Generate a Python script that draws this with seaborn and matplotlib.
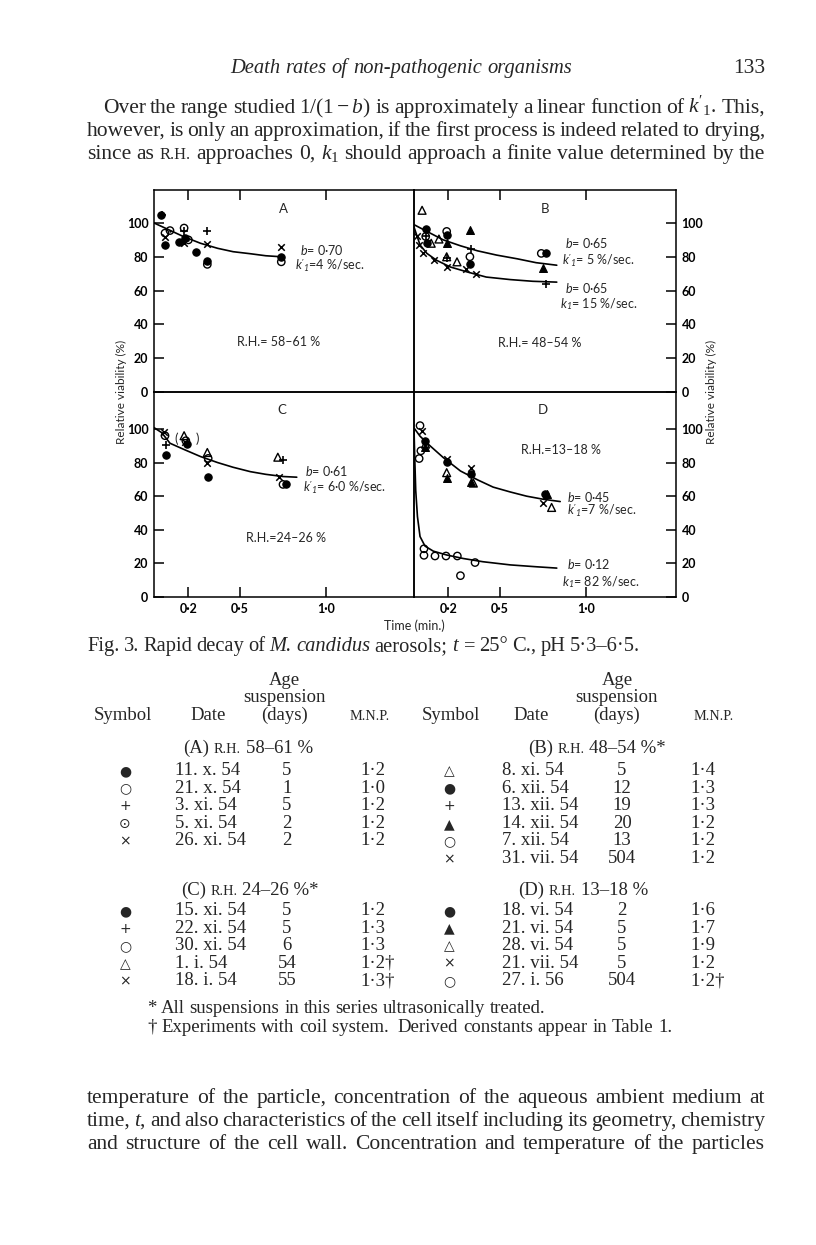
import matplotlib
matplotlib.use("Agg")
import matplotlib.pyplot as plt
import seaborn as sns

W, H = 816, 1245
SERIF = "Liberation Serif"
SANS = ["Lato", "DejaVu Sans"]

# ---- data (time in min, relative viability in %) ----
a_t = [0.04, 0.048, 0.064, 0.064, 0.064, 0.093, 0.145, 0.175, 0.175, 0.175, 0.178, 0.2, 0.244,
       0.31, 0.31, 0.31, 0.31, 0.74, 0.74, 0.74]
a_v = [105, 105, 94, 91.5, 87, 95.5, 89, 97, 95, 88, 91, 90, 83,
       95, 87.5, 77.5, 75.5, 86, 80, 77]
a_s = ['f', '+', 'o', 'x', 'f', 'od', 'f', 'o', '+', 'x', 'f', 'od', 'f',
       '+', 'x', 'f', 'o', 'x', 'f', 'o']
a_curve_t = [0, 0.075, 0.17, 0.27, 0.37, 0.46, 0.56, 0.65, 0.74]
a_curve_v = [100, 96.5, 92, 88, 85, 83, 81.8, 80.6, 80]

b_t = [0.047, 0.07, 0.068, 0.068, 0.075, 0.1, 0.145, 0.19, 0.19, 0.19, 0.19, 0.19, 0.25,
       0.325, 0.325, 0.325, 0.33, 0.74, 0.765, 0.75, 0.77,
       0.02, 0.03, 0.05, 0.115, 0.19, 0.30, 0.36]
b_v = [107.5, 96.5, 92, 92, 88, 88, 90.5, 95, 93, 88, 80, 79, 77,
       96, 80, 76, 84.5, 82, 82, 73.5, 64,
       92, 87, 82, 78, 74, 72.5, 70]
b_s = ['^', 'f', 'o', '+', 'f', '^', '^', 'o', 'f', 'f^', '^', '+', '^',
       'f^', 'o', 'f', '+', 'o', 'f', 'f^', '+',
       'x', 'x', 'x', 'x', 'x', 'x', 'x']
b_curve1_t = [0, 0.075, 0.17, 0.27, 0.37, 0.48, 0.6, 0.71, 0.83]
b_curve1_v = [99, 95, 90, 86.5, 83.5, 81, 78.8, 76.5, 75]
b_curve2_t = [0, 0.035, 0.075, 0.13, 0.21, 0.31, 0.42, 0.56, 0.69, 0.83]
b_curve2_v = [97.6, 87, 82, 78, 74, 71, 68, 66.5, 65.5, 65]

c_t = [0.064, 0.06, 0.175, 0.18, 0.185, 0.19, 0.068, 0.068, 0.31, 0.31, 0.315, 0.315,
       0.72, 0.75, 0.725, 0.75, 0.77]
c_v = [96, 98, 96, 92.5, 93, 91, 90.5, 84.5, 86, 79.5, 82.5, 71.7,
       83.2, 81.6, 71.3, 67, 67]
c_s = ['o', 'x', '^', 'x', 'o', 'f', '+', 'f', '^', 'x', 'o', 'f',
       '^', '+', 'x', 'o', 'f']
c_curve_t = [0, 0.045, 0.093, 0.17, 0.27, 0.37, 0.46, 0.56, 0.65, 0.75, 0.83]
c_curve_v = [100.8, 97.8, 91.5, 88, 83.6, 80, 77.2, 74.6, 73, 71.7, 71.3]

d_t = [0.035, 0.045, 0.03, 0.04, 0.063, 0.067, 0.065, 0.19, 0.19, 0.19, 0.19,
       0.33, 0.33, 0.33, 0.345, 0.76, 0.775, 0.75, 0.8,
       0.058, 0.058, 0.122, 0.186, 0.252, 0.355, 0.27]
d_v = [102, 98.6, 82.4, 87, 93, 91, 89, 82.4, 80.5, 74, 71,
       76.8, 73.2, 68.4, 67.8, 61.5, 61.5, 55.7, 53.3,
       28.7, 24.8, 24.4, 24.4, 24.4, 20.5, 12.7]
d_s = ['o', 'x', 'o', 'o', 'f', '^', 'f^', 'x', 'f', '^', 'f^',
       'x', 'f', 'f^', '^', 'f', 'f^', 'x', '^',
       'o', 'o', 'o', 'o', 'o', 'o', 'o']
d_curve1_t = [0, 0.035, 0.093, 0.17, 0.27, 0.37, 0.46, 0.56, 0.655, 0.75, 0.85]
d_curve1_v = [100.6, 95.7, 90, 83, 75, 69.7, 65.4, 62.5, 60, 58.2, 56.8]
d_curve2_t = [0, 0.004, 0.01, 0.02, 0.035, 0.064, 0.112, 0.19, 0.287, 0.4, 0.56, 0.71, 0.83]
d_curve2_v = [100, 84, 63.5, 47.9, 36, 30.3, 27.3, 25, 22.9, 21, 19.1, 18, 17.2]

y_ticks = [0, 20, 40, 60, 80, 100]
x_ticks = [0.2, 0.5, 1.0]
x_ticklabels = ['0·2', '0·5', '1·0']

# ---- table ----
a_sym = ['●', '○', '+', '⊙', '×']
a_date = ['11. x. 54', '21. x. 54', '3. xi. 54', '5. xi. 54', '26. xi. 54']
a_age = ['5', '1', '5', '2', '2']
a_mnp = ['1·2', '1·0', '1·2', '1·2', '1·2']
b_sym = ['△', '●', '+', '▲', '○', '×']
b_date = ['8. xi. 54', '6. xii. 54', '13. xii. 54', '14. xii. 54', '7. xii. 54', '31. vii. 54']
b_age = ['5', '12', '19', '20', '13', '504']
b_mnp = ['1·4', '1·3', '1·3', '1·2', '1·2', '1·2']
c_sym = ['●', '+', '○', '△', '×']
c_date = ['15. xi. 54', '22. xi. 54', '30. xi. 54', '1. i. 54', '18. i. 54']
c_age = ['5', '5', '6', '54', '55']
c_mnp = ['1·2', '1·3', '1·3', '1·2†', '1·3†']
d_sym = ['●', '▲', '△', '×', '○']
d_date = ['18. vi. 54', '21. vi. 54', '28. vi. 54', '21. vii. 54', '27. i. 56']
d_age = ['2', '5', '5', '5', '504']
d_mnp = ['1·6', '1·7', '1·9', '1·2', '1·2†']

sns.set_style("white")
plt.rcParams['font.family'] = SANS
plt.rcParams['mathtext.fontset'] = 'custom'
plt.rcParams['mathtext.rm'] = SERIF
plt.rcParams['mathtext.it'] = SERIF + ':italic'
plt.rcParams['mathtext.sf'] = 'Lato:italic'

fig = plt.figure(figsize=(W / 100, H / 100), dpi=100)
R = fig.canvas.get_renderer()


def px(x, y):
    return x / W, 1 - y / H


def box(l, t, r, b):
    return [l / W, 1 - b / H, (r - l) / W, (b - t) / H]


# marker styles for the symbols
STY = {
    'f': dict(marker='o', s=28, color='k', edgecolor='k', linewidth=0.8),
    'o': dict(marker='o', s=28, color='k', facecolors='none', edgecolor='k', linewidth=1.0),
    'od': dict(marker='o', s=28, color='k', facecolors='none', edgecolor='k', linewidth=1.0),
    '+': dict(marker='+', s=40, color='k', edgecolor='k', linewidth=1.2),
    'x': dict(marker='x', s=22, color='k', edgecolor='k', linewidth=1.1),
    '^': dict(marker='^', s=32, color='k', facecolors='none', edgecolor='k', linewidth=1.0),
    'f^': dict(marker='^', s=32, color='k', edgecolor='k', linewidth=0.8),
}


def draw_points(ax, t, v, s):
    for key, kw in STY.items():
        xs = [a for a, k in zip(t, s) if k == key]
        ys = [b for b, k in zip(v, s) if k == key]
        if xs:
            sns.scatterplot(x=xs, y=ys, ax=ax, zorder=3, clip_on=False, **kw)
            if key == 'od':
                sns.scatterplot(x=xs, y=ys, ax=ax, marker='o', s=3, color='k',
                                edgecolor='k', linewidth=0, zorder=4)


def draw_curve(ax, t, v):
    sns.lineplot(x=t, y=v, ax=ax, color='k', linewidth=1.2, sort=False, estimator=None)


axA = fig.add_axes(box(154, 190, 414, 392))
axB = fig.add_axes(box(414, 190, 676, 392))
axC = fig.add_axes(box(154, 392, 414, 597))
axD = fig.add_axes(box(414, 392, 676, 597))

draw_curve(axA, a_curve_t, a_curve_v)
draw_points(axA, a_t, a_v, a_s)
draw_curve(axB, b_curve1_t, b_curve1_v)
draw_curve(axB, b_curve2_t, b_curve2_v)
draw_points(axB, b_t, b_v, b_s)
draw_curve(axC, c_curve_t, c_curve_v)
draw_points(axC, c_t, c_v, c_s)
draw_curve(axD, d_curve1_t, d_curve1_v)
draw_curve(axD, d_curve2_t, d_curve2_v)
draw_points(axD, d_t, d_v, d_s)

for ax, top, left in [(axA, True, True), (axB, True, False), (axC, False, True), (axD, False, False)]:
    ax.set_xlim(0, (ax.get_position().width * W) / 172)
    ax.set_ylim(0, 119.5 if top else 122)
    ax.set_xticks(x_ticks)
    ax.set_xticklabels(x_ticklabels)
    ax.set_yticks(y_ticks)
    ax.set_xlabel('')
    ax.set_ylabel('')
    ax.tick_params(direction='in', length=7, width=1.1, colors='k', labelsize=9, pad=4,
                   top=top, bottom=not top, labeltop=False, labelbottom=not top,
                   left=left, labelleft=left, right=not left, labelright=not left)
    for lab in ax.get_xticklabels() + ax.get_yticklabels():
        lab.set_fontweight('bold')
    for sp in ax.spines.values():
        sp.set_linewidth(1.1)
        sp.set_color('k')
    ax.set_facecolor('none')


# figure annotations
def ftext(x, y, s, size=9, ha='left', **kw):
    fig.text(*px(x, y), s, fontsize=size, ha=ha, va='center', family=SANS, **kw)


K1p = r"$\mathsf{k}'_{\mathsf{1}}$"
K1 = r"$\mathsf{k}_{\mathsf{1}}$"
B_ = r"$\mathsf{b}$"
ftext(283, 209, 'A', 9.5, 'center')
ftext(300, 250, B_ + '= 0·70')
ftext(295, 266, K1p + '=4 %/sec.')
ftext(279, 342, 'R.H.= 58–61 %', 9, 'center')
ftext(545, 209, 'B', 9.5, 'center')
ftext(565, 243, B_ + '= 0·65')
ftext(562, 261, K1p + '= 5 %/sec.')
ftext(565, 288, B_ + '= 0·65')
ftext(560, 304, K1 + '= 15 %/sec.')
ftext(540, 343, 'R.H.= 48–54 %', 9, 'center')
ftext(282, 410, 'C', 9.5, 'center')
ftext(305, 471, B_ + '= 0·61')
ftext(303, 488, K1p + '= 6·0 %/sec.')
ftext(286, 538, 'R.H.=24–26 %', 9, 'center')
ftext(176, 439, '(', 9.5, 'center')
ftext(197, 439, ')', 9.5, 'center')
ftext(543, 410, 'D', 9.5, 'center')
ftext(561, 450, 'R.H.=13–18 %', 9, 'center')
ftext(567, 497, B_ + '= 0·45')
ftext(567, 511, K1p + '=7 %/sec.')
ftext(567, 564, B_ + '= 0·12')
ftext(562, 582, K1 + '= 82 %/sec.')
ftext(121, 392, 'Relative viability (%)', 8.5, 'center', rotation=90)
ftext(711, 392, 'Relative viability (%)', 8.5, 'center', rotation=90)
ftext(414, 626, 'Time (min.)', 9, 'center')


# ---- page text ----
def line(s, x0, y, size=15, x1=None, ha='left'):
    objs = []
    for tok in s.split(' '):
        kw = dict(fontsize=size, family=SERIF, va='baseline', ha='left')
        if tok.startswith('_'):
            tok = tok[1:]
            kw['fontstyle'] = 'italic'
        elif tok.startswith('^'):
            tok = tok[1:].upper()
            kw['fontsize'] = size * 0.76
        tok = tok.replace('~', ' ')
        objs.append(fig.text(*px(x0, y), tok, **kw))
    widths = [o.get_window_extent(R).width for o in objs]
    gap = size * 100 / 72 * 0.25
    if x1 is not None and len(objs) > 1:
        gap = (x1 - x0 - sum(widths)) / (len(objs) - 1)
    total = sum(widths) + gap * (len(objs) - 1)
    if ha == 'center':
        x0 -= total / 2
    elif ha == 'right':
        x0 -= total
    x = x0
    for o, w in zip(objs, widths):
        o.set_position(px(x, y))
        x += w + gap


BS = 15.5
line('_Death _rates _of _non-pathogenic _organisms', 401, 73, 14.8, ha='center')
line('133', 765, 73, 15.5, ha='right')
line(r"Over the range studied $1/(1-b)$ is approximately a linear function of $k'_1$. This,", 103, 113, BS, 765)
line('however, is only an approximation, if the first process is indeed related to drying,', 87, 136, BS, 765)
line(r'since as ^r.h. approaches 0, $k_1$ should approach a finite value determined by the', 87, 159, BS, 765)

line(r'Fig. 3. Rapid decay of _M. _candidus aerosols; $t$ = 25° C., pH 5·3–6·5.', 87, 651, 14.8, 640)

line('temperature of the particle, concentration of the aqueous ambient medium at', 87, 1103, BS, 765)
line(r'time, $t$, and also characteristics of the cell itself including its geometry, chemistry', 87, 1126, BS, 765)
line('and structure of the cell wall. Concentration and temperature of the particles', 87, 1149, BS, 765)

# table
TS = 13.5
for xc in (284, 617):
    line('Age', xc, 685, TS, ha='center')
    line('suspension', xc, 702, TS, ha='center')
    line('(days)', xc, 720, TS, ha='center')
line('Symbol', 123, 720, TS, ha='center')
line('Date', 208, 720, TS, ha='center')
line('^m.n.p.', 370, 720, TS, ha='center')
line('Symbol', 451, 720, TS, ha='center')
line('Date', 531, 720, TS, ha='center')
line('^m.n.p.', 714, 720, TS, ha='center')

line('(A) ^r.h. 58–61~%', 248, 753, TS, ha='center')
line('(B) ^r.h. 48–54~%*', 597, 753, TS, ha='center')
line('(C) ^r.h. 24–26~%*', 250, 895, TS, ha='center')
line('(D) ^r.h. 13–18~%', 583, 895, TS, ha='center')


def table(sym, date, age, mnp, y0, xs, xd, xa, xm):
    for i in range(len(sym)):
        y = y0 + i * 17.6
        fig.text(*px(xs, y), sym[i], fontsize=10, ha='center', va='baseline', family='DejaVu Sans')
        fig.text(*px(xd, y), date[i], fontsize=TS, ha='left', va='baseline', family=SERIF)
        fig.text(*px(xa, y), age[i], fontsize=TS, ha='center', va='baseline', family=SERIF)
        fig.text(*px(xm, y), mnp[i], fontsize=TS, ha='left', va='baseline', family=SERIF)


table(a_sym, a_date, a_age, a_mnp, 775, 125, 175, 287, 360)
table(b_sym, b_date, b_age, b_mnp, 775, 449, 502, 622, 690)
table(c_sym, c_date, c_age, c_mnp, 915, 125, 175, 287, 360)
table(d_sym, d_date, d_age, d_mnp, 915, 449, 502, 622, 690)

line('* All suspensions in this series ultrasonically treated.', 147, 1013, TS)
line('† Experiments with coil system.~ Derived constants appear in Table 1.', 147, 1032, TS)

fig.savefig('out.png', dpi=100, facecolor='white')
